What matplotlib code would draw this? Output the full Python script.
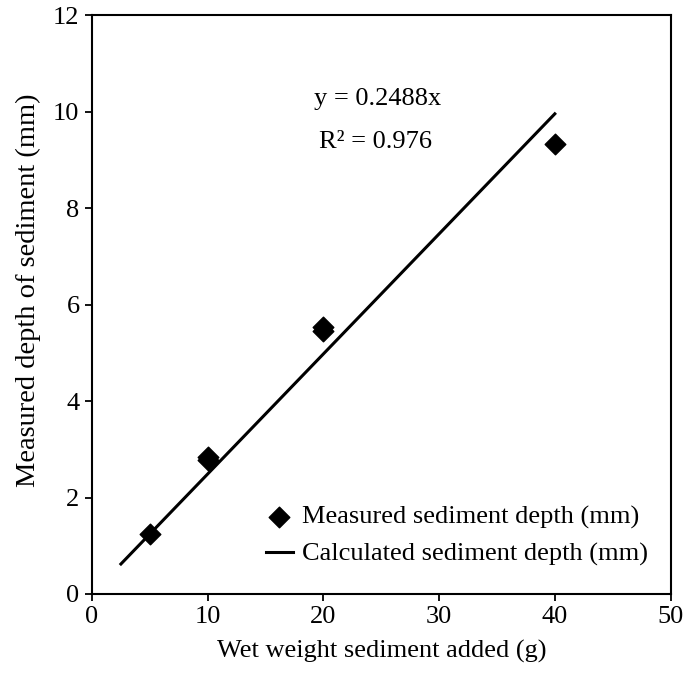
import numpy as np
import matplotlib.pyplot as plt

plt.rcParams['font.family'] = ['Liberation Serif', 'DejaVu Serif']

# measured points
sed_added = [5, 10, 10, 20, 20, 40]
sed_depth = [1.25, 2.78, 2.84, 5.45, 5.53, 9.32]

# fitted line y = 0.2488x
slope = 0.2488
fit_x = np.array([2.5, 40.0])

fs = 19

fig = plt.figure(figsize=(6.83, 6.77), dpi=100)
ax = fig.add_axes([0.1347, 0.1226, 0.847, 0.8552])

ax.plot(fit_x, slope * fit_x, color='k', lw=2.2, label='Calculated sediment depth (mm)', zorder=2)
ax.scatter(sed_added, sed_depth, marker='D', s=110, color='k', label='Measured sediment depth (mm)', zorder=3)

ax.set_xlim(0, 50)
ax.set_ylim(0, 12)
ax.set_xticks([0, 10, 20, 30, 40, 50])
ax.set_yticks([0, 2, 4, 6, 8, 10, 12])
ax.tick_params(direction='out', length=5, width=1.3, labelsize=fs, pad=4)
for s in ax.spines.values():
    s.set_linewidth(1.5)

ax.set_xlabel('Wet weight sediment added (g)', fontsize=fs, labelpad=8)
ax.set_ylabel('Measured depth of sediment (mm)', fontsize=20.5)
ax.yaxis.set_label_coords(-0.088, 0.525)

ax.text(24.7, 10.25, 'y = 0.2488x', fontsize=fs, ha='center', va='center')
ax.text(24.5, 9.37, 'R² = 0.976', fontsize=fs, ha='center', va='center')

h, l = ax.get_legend_handles_labels()
ax.legend(h[::-1], l[::-1], loc='upper left', frameon=False, fontsize=fs,
          handlelength=1.05, handletextpad=0.35, labelspacing=0.5,
          borderpad=0, borderaxespad=0, bbox_to_anchor=(0.30, 0.153))

fig.savefig('out.png', dpi=100)
